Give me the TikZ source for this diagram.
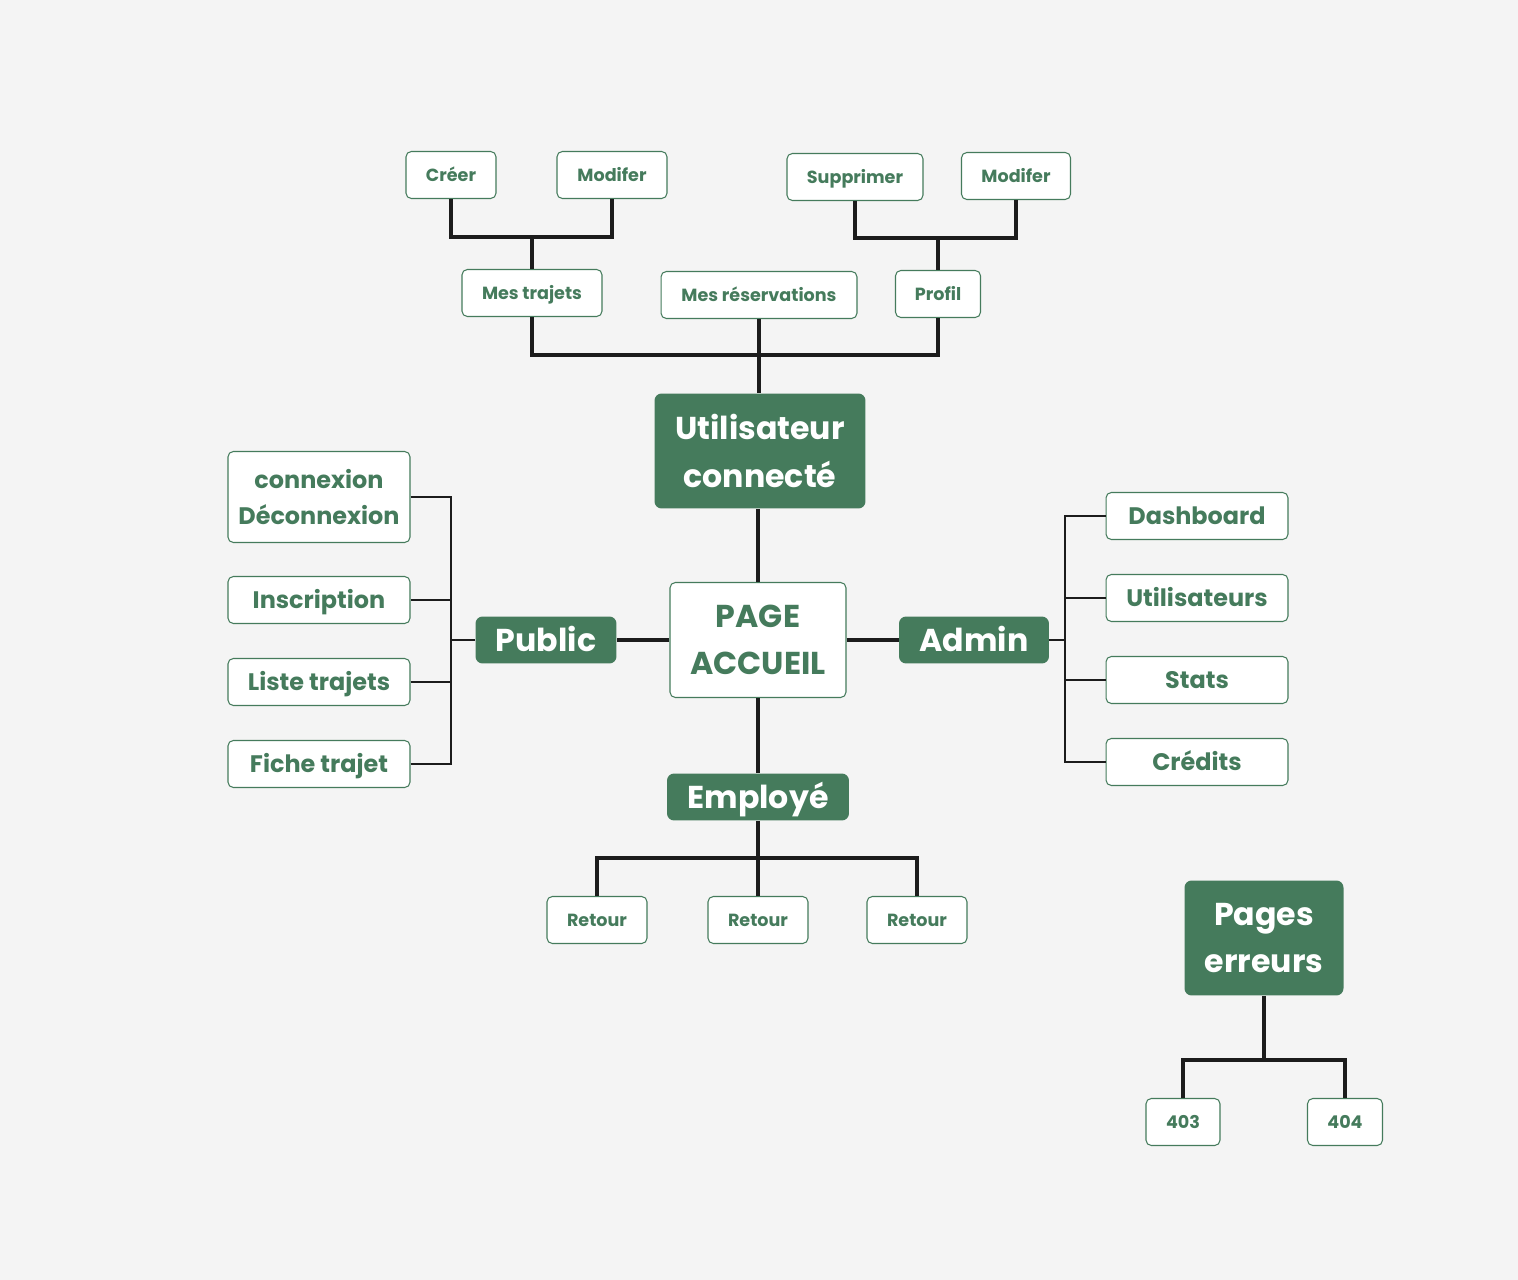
\documentclass[tikz,border=0pt]{standalone}
\usepackage{fontspec}
\setmainfont{Poppins}
\usepackage{xcolor}
\usetikzlibrary{positioning}

\definecolor{sitegreen}{HTML}{457B5C}
\definecolor{paper}{HTML}{F4F4F4}
\definecolor{ink}{HTML}{1C1C1C}

\begin{document}
\begin{tikzpicture}[
    x=0.02cm, y=-0.02cm,
    page/.style={draw=sitegreen, fill=white, rounded corners=3pt, line width=0.6pt,
        text=sitegreen, font=\bfseries, inner sep=0pt, align=center},
    small/.style={page, text height=7.1pt, text depth=0pt, minimum height=0.94cm,
        font=\fontsize{10}{12}\selectfont\bfseries},
    mid/.style={page, minimum width=3.64cm, minimum height=0.94cm,
        font=\fontsize{13.6}{20.4}\selectfont\bfseries},
    midline/.style={mid, text height=9.6pt, text depth=0pt},
    big/.style={page, minimum width=3.52cm, minimum height=2.3cm,
        font=\fontsize{18}{27}\selectfont\bfseries},
    role/.style={fill=sitegreen, rounded corners=4pt, text=white, inner sep=0pt, align=center,
        font=\fontsize{18}{27}\selectfont\bfseries},
    roleline/.style={role, text height=12.7pt, text depth=0pt, minimum height=0.94cm},
    link/.style={draw=ink, line width=2pt},
    twig/.style={draw=ink, line width=1.3pt},
]

\fill[paper] (0,0) rectangle (1518,1280);
\useasboundingbox (0,0) rectangle (1518,1280);

% centre
\node[big] (accueil) at (758,640) {PAGE\\ACCUEIL};
\node[role, minimum width=4.22cm, minimum height=2.3cm] (connecte) at (760,451) {Utilisateur\\connecté};
\node[roleline, minimum width=2.82cm] (public) at (546,640) {Public};
\node[roleline, minimum width=3.0cm] (admin) at (974,640) {Admin};
\node[roleline, minimum width=3.64cm] (employe) at (758,797) {Employé};
\node[role, minimum width=3.18cm, minimum height=2.3cm] (erreurs) at (1264,938) {Pages\\erreurs};

% utilisateur connecte
\node[small, minimum width=2.8cm] (trajets) at (532,293) {Mes trajets};
\node[small, minimum width=3.92cm] (resa) at (759,295) {Mes réservations};
\node[small, minimum width=1.7cm] (profil) at (938,294) {Profil};
\node[small, minimum width=1.8cm] (creer) at (451,175) {Créer};
\node[small, minimum width=2.2cm] (modtraj) at (612,175) {Modifer};
\node[small, minimum width=2.72cm] (suppr) at (855,177) {Supprimer};
\node[small, minimum width=2.18cm] (modprof) at (1016,176) {Modifer};

% public
\node[mid, minimum height=1.82cm] (connex) at (319,497) {connexion\\Déconnexion};
\node[midline] (inscr) at (319,600) {Inscription};
\node[midline] (liste) at (319,682) {Liste trajets};
\node[midline] (fiche) at (319,764) {Fiche trajet};

% admin
\node[midline] (dash) at (1197,516) {Dashboard};
\node[midline] (users) at (1197,598) {Utilisateurs};
\node[midline] (stats) at (1197,680) {Stats};
\node[midline] (credits) at (1197,762) {Crédits};

% employe
\node[small, minimum width=2cm] (retA) at (597,920) {Retour};
\node[small, minimum width=2cm] (retB) at (758,920) {Retour};
\node[small, minimum width=2cm] (retC) at (917,920) {Retour};

% erreurs
\node[small, minimum width=1.48cm] (e403) at (1183,1122) {403};
\node[small, minimum width=1.5cm] (e404) at (1345,1122) {404};

% junctions
\coordinate (jtraj) at (532,237);
\coordinate (jprof) at (938,238);
\coordinate (jconn) at (759,355);
\coordinate (jpub) at (451,640);
\coordinate (jadm) at (1065,640);
\coordinate (jemp) at (758,858);
\coordinate (jerr) at (1264,1060);

% connectors
\draw[link] (creer.south) |- (jtraj) -| (modtraj.south);
\draw[link] (jtraj) -- (trajets.north);
\draw[link] (suppr.south) |- (jprof) -| (modprof.south);
\draw[link] (jprof) -- (profil.north);
\draw[link] (trajets.south) |- (jconn) -| (profil.south);
\draw[link] (resa.south) -- (resa.south |- connecte.north);
\draw[link] (accueil.north |- connecte.south) -- (accueil.north);

\draw[link] (accueil) -- (public);
\draw[twig] (public) -- (jpub);
\foreach \n in {connex, inscr, liste, fiche}
    \draw[twig] (\n.east) -| (jpub);

\draw[link] (accueil) -- (admin);
\draw[twig] (admin) -- (jadm);
\foreach \n in {dash, users, stats, credits}
    \draw[twig] (\n.west) -| (jadm);

\draw[link] (accueil) -- (employe);
\draw[link] (employe) -- (jemp);
\draw[link] (retA.north) |- (jemp) -| (retC.north);
\draw[link] (jemp) -- (retB.north);

\draw[link] (erreurs) -- (jerr);
\draw[link] (e403.north) |- (jerr) -| (e404.north);

\end{tikzpicture}
\end{document}
